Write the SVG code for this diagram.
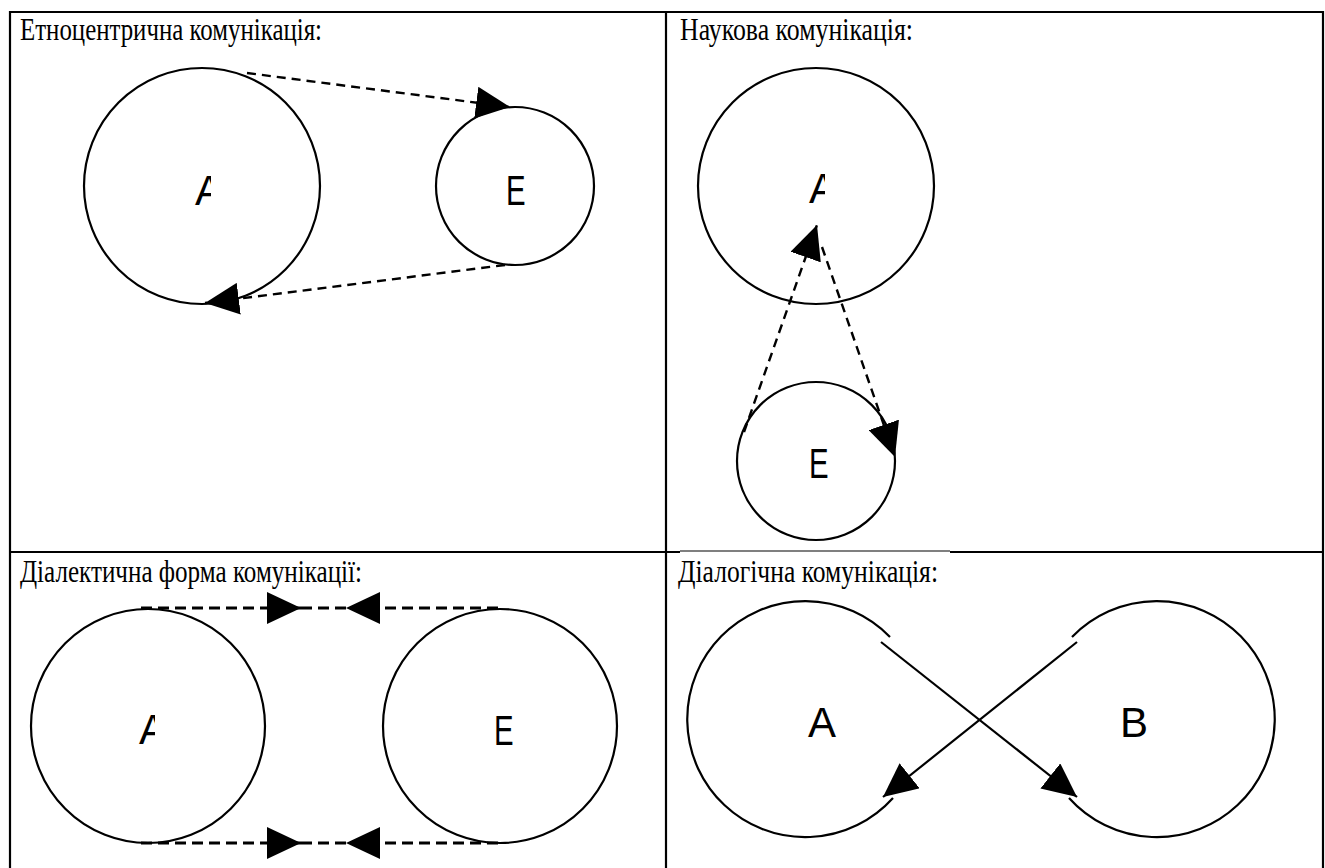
<svg xmlns="http://www.w3.org/2000/svg" width="1325" height="868" viewBox="0 0 1325 868">
<style>
.grid{stroke:#000;stroke-width:2.2;fill:none}
.thin{stroke:#000;stroke-width:1.2;fill:none}
.node{fill:none;stroke:#000;stroke-width:2.2}
.head{font-family:"Liberation Serif","Times New Roman",serif;font-size:31px;fill:#000}
.lbl{font-family:"Liberation Sans",Arial,sans-serif;font-size:42px;fill:#000}
.dash{fill:none;stroke:#000;stroke-width:2.4;stroke-dasharray:9 6}
.dash2{fill:none;stroke:#000;stroke-width:2.8;stroke-dasharray:11 6}
.solid{fill:none;stroke:#000;stroke-width:2.2}
</style>
<defs>
<marker id="ah" markerUnits="userSpaceOnUse" viewBox="0 0 34 32" markerWidth="34" markerHeight="32" refX="34" refY="16" orient="auto">
<path d="M0,0 L34,16 L0,32 z" fill="#000"/>
</marker>
<clipPath id="c1"><rect x="185" y="160" width="26" height="60"/></clipPath>
<clipPath id="c2"><rect x="799" y="160" width="26" height="60"/></clipPath>
<clipPath id="c3"><rect x="129" y="700" width="26" height="60"/></clipPath>
</defs>
<rect width="1325" height="868" fill="#fff"/>
<g id="table">
<path class="grid" d="M10,12 H1323 M10,11 V868 M666,11 V868 M1323,11 V868 M10,552 H680 M950,552 H1323"/>
<path class="thin" d="M680,551 H950"/>
</g>
<g id="headings">
<text class="head" x="20" y="40" textLength="302" lengthAdjust="spacingAndGlyphs">Етноцентрична комунікація:</text>
<text class="head" x="680" y="40" textLength="233" lengthAdjust="spacingAndGlyphs">Наукова комунікація:</text>
<text class="head" x="20" y="582" textLength="342" lengthAdjust="spacingAndGlyphs">Діалектична форма комунікації:</text>
<text class="head" x="678" y="582" textLength="260" lengthAdjust="spacingAndGlyphs">Діалогічна комунікація:</text>
</g>
<g id="p1-A">
<circle class="node" cx="202" cy="186" r="118"/>
<text class="lbl" x="195" y="205" clip-path="url(#c1)">A</text>
</g>
<g id="p1-E">
<circle class="node" cx="515" cy="186" r="79"/>
<text class="lbl" transform="translate(506,205) scale(0.7,1)">E</text>
</g>
<g id="p2-A">
<circle class="node" cx="816" cy="186" r="118"/>
<text class="lbl" x="809" y="203" clip-path="url(#c2)">A</text>
</g>
<g id="p2-E">
<circle class="node" cx="816" cy="461" r="79"/>
<text class="lbl" transform="translate(809,478) scale(0.7,1)">E</text>
</g>
<g id="p3-A">
<circle class="node" cx="148" cy="726" r="117"/>
<text class="lbl" x="139" y="744" clip-path="url(#c3)">A</text>
</g>
<g id="p3-E">
<circle class="node" cx="500" cy="726" r="117"/>
<text class="lbl" transform="translate(494,745) scale(0.7,1)">E</text>
</g>
<g id="p4-A">
<path class="node" d="M890,637 A118,118 0 1 0 893,798"/>
<text class="lbl" x="808" y="737">A</text>
</g>
<g id="p4-B">
<path class="node" d="M1072,637 A118,118 0 1 1 1069,798"/>
<text class="lbl" x="1120" y="737">B</text>
</g>
<g id="connectors">
<path class="dash" d="M247,73 L510,107" marker-end="url(#ah)"/>
<path class="dash" d="M505,265 L205,303" marker-end="url(#ah)"/>
<path class="dash" d="M744,432 L817,225" marker-end="url(#ah)"/>
<path class="dash" d="M822,247 L895,457" marker-end="url(#ah)"/>
<path class="dash2" d="M141,608 H301" marker-end="url(#ah)"/>
<path class="dash2" d="M301,608 H346"/>
<path class="dash2" d="M498,608 H346" marker-end="url(#ah)"/>
<path class="dash2" d="M141,843 H301" marker-end="url(#ah)"/>
<path class="dash2" d="M301,843 H346"/>
<path class="dash2" d="M498,843 H346" marker-end="url(#ah)"/>
<path class="solid" d="M881,642 L1077,797" marker-end="url(#ah)"/>
<path class="solid" d="M1077,642 L883,797" marker-end="url(#ah)"/>
</g>
</svg>
